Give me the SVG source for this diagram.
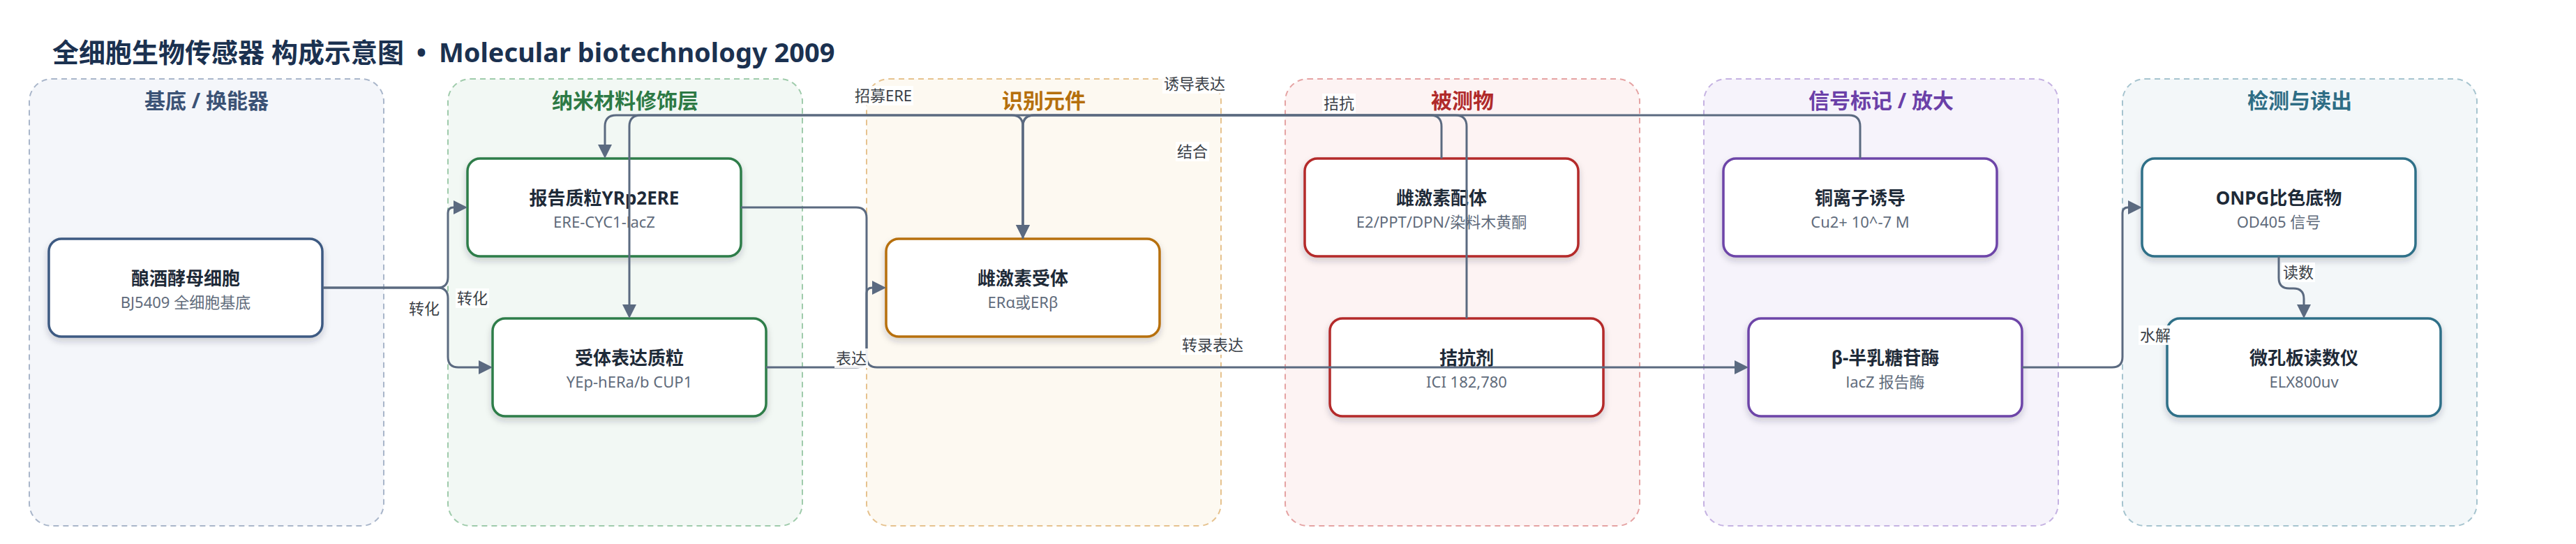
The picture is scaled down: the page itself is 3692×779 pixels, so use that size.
<svg xmlns="http://www.w3.org/2000/svg" width="3692" height="779" viewBox="0 0 3692 779">
<style>
text{font-family:"Noto Sans","Noto Sans CJK SC",sans-serif}
.title{font-size:38px;font-weight:700;fill:#1b3150}
.lane{stroke-width:2;stroke-dasharray:8 6}
.lt{font-size:30px;font-weight:700;text-anchor:middle}
.node rect{fill:#fff;stroke-width:3.5;filter:url(#sh)}
.nt{font-size:26px;font-weight:700;fill:#1e2a38;text-anchor:middle}
.ns{font-size:22px;fill:#5f6b7b;text-anchor:middle}
.e{fill:none;stroke:#5b6a80;stroke-width:3}
.ea{marker-end:url(#ar)}
.lb rect{fill:#fff;fill-opacity:0.9}
.lb text{font-size:22px;fill:#3a3f47;text-anchor:middle}
</style>
<defs>
<filter id="sh" x="-10%" y="-10%" width="120%" height="140%">
<feDropShadow dx="0" dy="5" stdDeviation="5" flood-color="#1e2a3a" flood-opacity="0.2"/>
</filter>
<marker id="ar" markerUnits="userSpaceOnUse" markerWidth="20" markerHeight="20" viewBox="0 0 20 20" refX="0" refY="10" orient="auto">
<path d="M0,0 L20,10 L0,20 z" fill="#5b6a80"/>
</marker>
</defs>
<rect width="3692" height="779" fill="#fff"/>
<text class="title" x="75" y="89">全细胞生物传感器 构成示意图 <tspan dx="8">•</tspan><tspan dx="8"> Molecular biotechnology 2009</tspan></text>

<g id="lanes">
<rect class="lane" x="42" y="113" width="508" height="640" rx="32" fill="#f4f6fa" stroke="#a9b6ca"/>
<text class="lt" x="296" y="155" fill="#3b5275">基底 / 换能器</text>
<rect class="lane" x="642" y="113" width="508" height="640" rx="32" fill="#f2f8f4" stroke="#9fcbab"/>
<text class="lt" x="896" y="155" fill="#2d7a45">纳米材料修饰层</text>
<rect class="lane" x="1242" y="113" width="508" height="640" rx="32" fill="#fdf9f1" stroke="#e6c28e"/>
<text class="lt" x="1496" y="155" fill="#b56f0c">识别元件</text>
<rect class="lane" x="1842" y="113" width="508" height="640" rx="32" fill="#fdf3f3" stroke="#e5a3a3"/>
<text class="lt" x="2096" y="155" fill="#b02a2a">被测物</text>
<rect class="lane" x="2442" y="113" width="508" height="640" rx="32" fill="#f6f3fb" stroke="#c5b2e2"/>
<text class="lt" x="2696" y="155" fill="#6b40a8">信号标记 / 放大</text>
<rect class="lane" x="3042" y="113" width="508" height="640" rx="32" fill="#f3f7f9" stroke="#a6c4cf"/>
<text class="lt" x="3296" y="155" fill="#2e6d85">检测与读出</text>
</g>

<g id="n1" class="node"><rect x="70" y="342" width="392" height="140" rx="18" stroke="#3e5a82"/><text class="nt" x="266" y="408">酿酒酵母细胞</text><text class="ns" x="266" y="441">BJ5409 全细胞基底</text></g>
<g id="n2" class="node"><rect x="670" y="227" width="392" height="140" rx="18" stroke="#2e7d4a"/><text class="nt" x="866" y="293">报告质粒YRp2ERE</text><text class="ns" x="866" y="326">ERE-CYC1-lacZ</text></g>
<g id="n3" class="node"><rect x="706" y="456" width="392" height="140" rx="18" stroke="#2e7d4a"/><text class="nt" x="902" y="522">受体表达质粒</text><text class="ns" x="902" y="555">YEp-hERa/b CUP1</text></g>
<g id="n4" class="node"><rect x="1270" y="342" width="392" height="140" rx="18" stroke="#b7700e"/><text class="nt" x="1466" y="408">雌激素受体</text><text class="ns" x="1466" y="441">ERα或ERβ</text></g>
<g id="n5" class="node"><rect x="1870" y="227" width="392" height="140" rx="18" stroke="#b42a2a"/><text class="nt" x="2066" y="293">雌激素配体</text><text class="ns" x="2066" y="326">E2/PPT/DPN/染料木黄酮</text></g>
<g id="n6" class="node"><rect x="1906" y="456" width="392" height="140" rx="18" stroke="#b42a2a"/><text class="nt" x="2102" y="522">拮抗剂</text><text class="ns" x="2102" y="555">ICI 182,780</text></g>
<g id="n7" class="node"><rect x="2470" y="227" width="392" height="140" rx="18" stroke="#6d44a8"/><text class="nt" x="2666" y="293">铜离子诱导</text><text class="ns" x="2666" y="326">Cu2+ 10^-7 M</text></g>
<g id="n8" class="node"><rect x="2506" y="456" width="392" height="140" rx="18" stroke="#6d44a8"/><text class="nt" x="2702" y="522">β-半乳糖苷酶</text><text class="ns" x="2702" y="555">lacZ 报告酶</text></g>
<g id="n9" class="node"><rect x="3070" y="227" width="392" height="140" rx="18" stroke="#2f6f88"/><text class="nt" x="3266" y="293">ONPG比色底物</text><text class="ns" x="3266" y="326">OD405 信号</text></g>
<g id="n10" class="node"><rect x="3106" y="456" width="392" height="140" rx="18" stroke="#2f6f88"/><text class="nt" x="3302" y="522">微孔板读数仪</text><text class="ns" x="3302" y="555">ELX800uv</text></g>

<g id="connectors">
<path class="e ea" d="M463,412 H627 Q642,412 642,397 V305 Q642,297 650,297"/>
<path class="e ea" d="M463,412 H627 Q642,412 642,427 V511 Q642,526 657,526 H686"/>
<path class="e ea" d="M1098,526 H1227 Q1242,526 1242,511 V420 Q1242,412 1250,412"/>
<path class="e ea" d="M1062,297 H1227 Q1242,297 1242,312 V511 Q1242,526 1257,526 H2486"/>
<path class="e ea" d="M1466,342 V181 Q1466,165 1450,165 H883 Q867,165 867,181 V207"/>
<path class="e ea" d="M2066,227 V181 Q2066,165 2050,165 H1482 Q1466,165 1466,181 V322"/>
<path class="e ea" d="M2102,456 V181 Q2102,165 2086,165 H1482 Q1466,165 1466,181 V322"/>
<path class="e ea" d="M2666,227 V181 Q2666,165 2650,165 H918 Q902,165 902,181 V436"/>
<path class="e ea" d="M2898,526 H3027 Q3042,526 3042,511 V305 Q3042,297 3050,297"/>
<path class="e ea" d="M3266,367 V398 Q3266,413 3281,413 H3287 Q3302,413 3302,428 V436"/>
</g>

<g id="labels">
<g class="lb"><rect x="653" y="413" width="48" height="28"/><text x="677" y="435">转化</text></g>
<g class="lb"><rect x="584" y="428" width="48" height="28"/><text x="608" y="450">转化</text></g>
<g class="lb"><rect x="1196" y="499" width="48" height="28"/><text x="1220" y="521">表达</text></g>
<g class="lb"><rect x="1692" y="480" width="92" height="28"/><text x="1738" y="502">转录表达</text></g>
<g class="lb"><rect x="1223" y="123" width="86" height="28"/><text x="1266" y="145">招募ERE</text></g>
<g class="lb"><rect x="1666" y="106" width="92" height="28"/><text x="1712" y="128">诱导表达</text></g>
<g class="lb"><rect x="1685" y="203" width="48" height="28"/><text x="1709" y="225">结合</text></g>
<g class="lb"><rect x="1895" y="134" width="48" height="28"/><text x="1919" y="156">拮抗</text></g>
<g class="lb"><rect x="3270" y="376" width="48" height="28"/><text x="3294" y="398">读数</text></g>
<g class="lb"><rect x="3065" y="466" width="48" height="28"/><text x="3089" y="488">水解</text></g>
</g>
</svg>
